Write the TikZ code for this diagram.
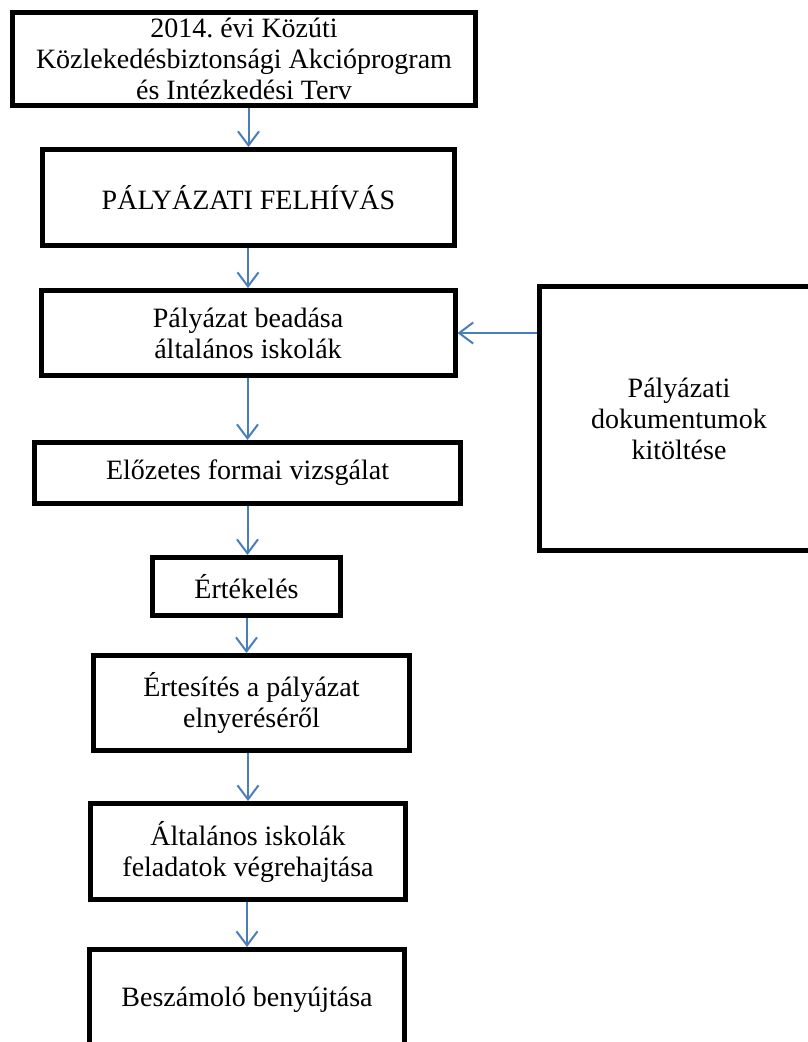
\documentclass[tikz,border=0pt]{standalone}
\usepackage{fontspec}
\setmainfont{Liberation Serif}
\frenchspacing
\usetikzlibrary{arrows.meta}
\definecolor{flowblue}{RGB}{74,126,187}

\begin{document}
\begin{tikzpicture}[x=1pt, y=-1pt,
    box/.style={draw, line width=5pt, inner sep=0pt, align=center,
      font=\fontsize{28}{31}\selectfont},
    flow/.style={draw=flowblue, line width=2pt,
      -{Straight Barb[length=14pt, width=21pt, line width=2pt]}}]
      \useasboundingbox (0, 0) rectangle (808, 1042);

      \node [box, minimum width=463, minimum height=93] (top) at (244, 59)
        {2014. évi Közúti\\Közlekedésbiztonsági Akcióprogram\\és Intézkedési Terv};
      \node [box, minimum width=412, minimum height=96] (call) at (248.5, 197.5) {PÁLYÁZATI FELHÍVÁS};
      \node [box, minimum width=414, minimum height=85] (submit) at (248, 333)
        {Pályázat beadása\\általános iskolák};
      \node [box, minimum width=426, minimum height=61] (check) at (247.5, 473) {Előzetes formai vizsgálat};
      \node [box, minimum width=188, minimum height=58] (eval) at (246.5, 586.5) {Értékelés};
      \node [box, minimum width=316, minimum height=95] (notify) at (251.5, 703)
        {Értesítés a pályázat\\elnyeréséről};
      \node [box, minimum width=315, minimum height=96] (exec) at (248, 851.5)
        {Általános iskolák\\feladatok végrehajtása};
      \node [box, minimum width=315, minimum height=101] (report) at (247, 1000) {Beszámoló benyújtása};

      \node [box, minimum width=279, minimum height=264] (docs) at (679, 418.5)
        {Pályázati\\dokumentumok\\kitöltése};

      \draw [flow] (call.north |- top.south) -- (call.north);
      \draw [flow] (submit.north |- call.south) -- (submit.north);
      \draw [flow] (check.north |- submit.south) -- (check.north);
      \draw [flow] (check.south) -- (check.south |- eval.north);
      \draw [flow] (eval.south) -- (eval.south |- notify.north);
      \draw [flow] (exec.north |- notify.south) -- (exec.north);
      \draw [flow] (report.north |- exec.south) -- (report.north);
      \draw [flow] (docs.west |- submit.east) -- (submit.east);
    \end{tikzpicture}
\end{document}
